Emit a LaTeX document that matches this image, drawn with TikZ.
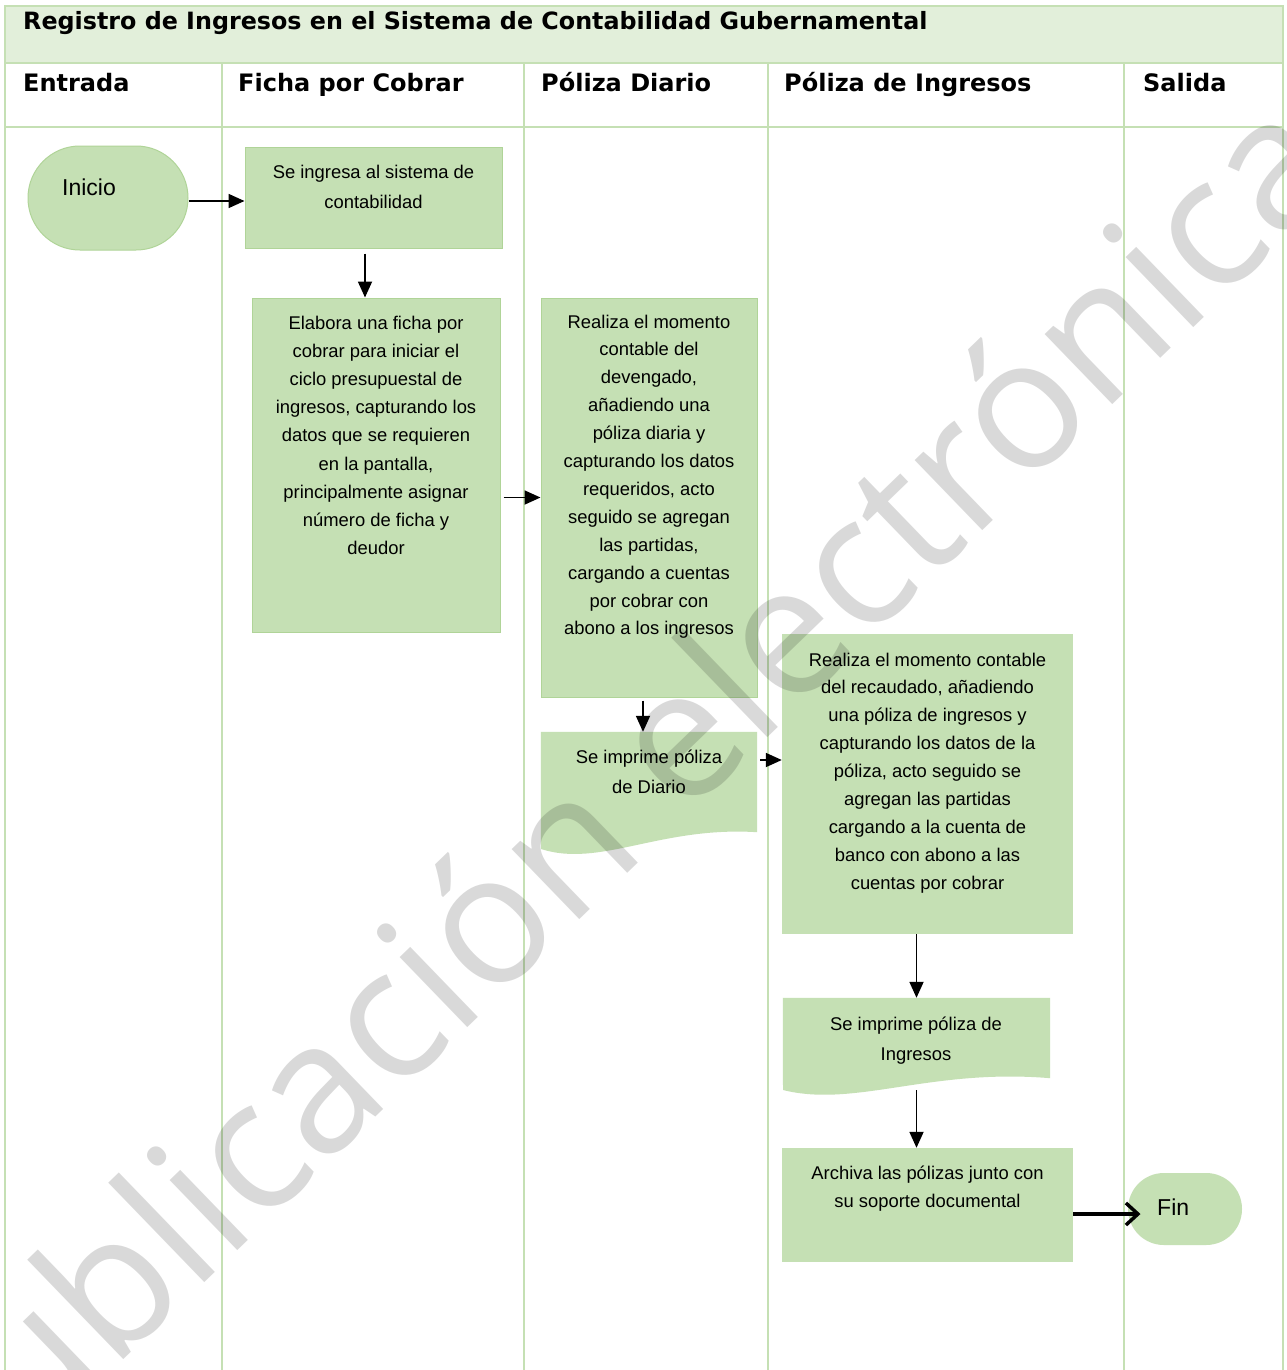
\documentclass[tikz,border=0pt]{standalone}
\usepackage{fontspec}
\setmainfont{Liberation Sans}
\newfontfamily\headfont{DejaVu Sans}
\newfontfamily\markfont{Open Sans}
\usetikzlibrary{arrows.meta,calc}

\definecolor{laneline}{RGB}{197,224,180}
\definecolor{bandfill}{RGB}{226,239,218}
\definecolor{stepfill}{RGB}{197,224,180}
\definecolor{stepedge}{RGB}{176,212,152}

% multi-line step text, first baseline is the box baseline
\newcommand{\steplines}[2]{\parbox[t]{320pt}{\centering\fontsize{18.4}{#1}\selectfont #2}}

\begin{document}
\begin{tikzpicture}[x=1pt,y=-1pt,
  lane/.style={draw=laneline, line width=2pt},
  stepbox/.style={rectangle, draw=stepedge, line width=1pt, fill=stepfill, inner sep=0pt},
  plainbox/.style={rectangle, fill=stepfill, inner sep=0pt},
  docbody/.style={rectangle, inner sep=0pt},
  terminal/.style={rectangle, fill=stepfill, draw=stepedge, line width=1pt, inner sep=0pt},
  steptext/.style={anchor=base, inner sep=0pt},
  headtext/.style={anchor=base west, inner sep=0pt, font=\headfont\bfseries\fontsize{24}{28}\selectfont},
  titletext/.style={anchor=base west, inner sep=0pt, font=\headfont\bfseries\fontsize{23.8}{28}\selectfont},
  termtext/.style={anchor=base west, inner sep=0pt, font=\fontsize{23}{28}\selectfont},
  flow/.style={-{Triangle[length=16pt,width=14pt]}, line width=1.8pt},
  finflow/.style={-{Straight Barb[length=12pt,width=22pt,line width=3.5pt]}, line width=3.5pt}
]
\useasboundingbox (0,0) rectangle (1286,1370);
\fill[white] (0,0) rectangle (1286,1370);

% title band and lane grid
\draw[lane, fill=bandfill] (5,6) rectangle (1283,63);
\draw[lane] (5,127) -- (1283,127);
\foreach \lx in {5,221.5,524,767.5,1124,1283}
  \draw[lane] (\lx,63) -- (\lx,1370);

\node[titletext] (title) at (23,30) {Registro de Ingresos en el Sistema de Contabilidad Gubernamental};
\node[headtext] (h1) at (23,92) {Entrada};
\node[headtext] (h2) at (238,92) {Ficha por Cobrar};
\node[headtext] (h3) at (541,92) {Póliza Diario};
\node[headtext] (h4) at (784,92) {Póliza de Ingresos};
\node[headtext] (h5) at (1143,92) {Salida};

% terminals
\node[terminal, minimum width=160, minimum height=104, rounded corners=51.9pt] (inicio) at (108,198) {};
\node[termtext] (inicioT) at (62,195) {Inicio};
\node[terminal, draw=none, minimum width=114, minimum height=72, rounded corners=35.9pt] (fin) at (1185,1209) {};
\node[termtext] (finT) at (1157,1215) {Fin};

% process boxes
\node[stepbox, minimum width=257, minimum height=101] (b1) at (373.5,197.5) {};
\node[steptext] (b1T) at (373.5,178) {\steplines{30}{Se ingresa al sistema de\\contabilidad}};

\node[stepbox, minimum width=248, minimum height=334] (b2) at (376,465) {};
\node[steptext] (b2T) at (376,329) {\steplines{28.2}{Elabora una ficha por\\cobrar para iniciar el\\ciclo presupuestal de\\ingresos, capturando los\\datos que se requieren\\en la pantalla,\\principalmente asignar\\número de ficha y\\deudor}};

\node[stepbox, minimum width=216, minimum height=399] (b3) at (649,497.5) {};
\node[steptext] (b3T) at (649,328) {\steplines{27.9}{Realiza el momento\\contable del\\devengado,\\añadiendo una\\póliza diaria y\\capturando los datos\\requeridos, acto\\seguido se agregan\\las partidas,\\cargando a cuentas\\por cobrar con\\abono a los ingresos}};

% printed journal voucher
\node[docbody, minimum width=216, minimum height=100] (d1) at (649,782) {};
\fill[stepfill] (d1.north west) -- (d1.north east) -- (d1.south east)
  .. controls (660,826) and (600,868) .. (541,849) -- cycle;
\node[steptext] (d1T) at (649,763) {\steplines{30}{Se imprime póliza\\de Diario}};

\node[plainbox, minimum width=291, minimum height=300] (b4) at (927.5,784) {};
\node[steptext] (b4T) at (927.5,666) {\steplines{27.9}{Realiza el momento contable\\del recaudado, añadiendo\\una póliza de ingresos y\\capturando los datos de la\\póliza, acto seguido se\\agregan las partidas\\cargando a la cuenta de\\banco con abono a las\\cuentas por cobrar}};

% printed income voucher
\node[docbody, minimum width=267, minimum height=80] (d2) at (916.5,1038) {};
\fill[stepfill] (d2.north west) -- (d2.north east) -- (d2.south east)
  .. controls (930,1068) and (855,1108) .. (783,1090) -- cycle;
\node[steptext] (d2T) at (916,1030) {\steplines{30}{Se imprime póliza de\\Ingresos}};

\node[plainbox, minimum width=291, minimum height=114] (b5) at (927.5,1205) {};
\node[steptext] (b5T) at (927.5,1179) {\steplines{28}{Archiva las pólizas junto con\\su soporte documental}};

% connectors
\coordinate (iout) at ($(inicio.east)+(0,3)$);
\draw[flow] (iout) -- (iout -| b1.west);
\draw[flow] ([shift={(-8.5pt,-5pt)}]b1.south) -- ([xshift=-11pt]b2.north);
\draw[flow] ([xshift=3pt]b2.east |- b3.west) -- (b3.west);
\draw[flow] ([shift={(-6pt,-3pt)}]b3.south) -- ([xshift=-6pt]d1.north);
\coordinate (d1out) at ($(d1.east)+(3,-22)$);
\draw[flow] (d1out) -- (d1out -| b4.west);
\draw[flow] (d2.north |- b4.south) -- (d2.north);
\draw[flow] ($(d2.south)+(0,12)$) -- (d2.south |- b5.north);
\coordinate (b5out) at ($(b5.east)+(0,9)$);
\draw[finflow, shorten >=-13pt] (b5out) -- (b5out -| fin.west);

% publication mark
\begin{scope}
\clip (0,0) rectangle (1286,1370);
\node[rotate=44, anchor=base, inner sep=0pt, text=black, text opacity=0.15,
  font=\markfont\fontsize{182}{182}\selectfont] (mark) at (652,850) {Publicación electrónica};
\end{scope}
\end{tikzpicture}
\end{document}
